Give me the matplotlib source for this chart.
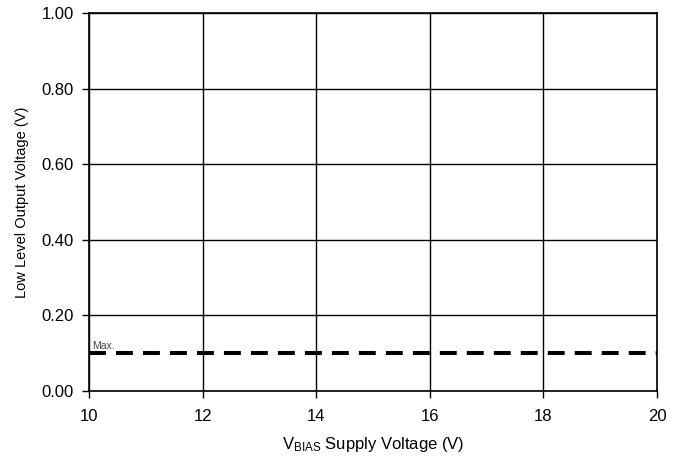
import matplotlib
matplotlib.use('Agg')
import matplotlib.pyplot as plt

plt.rcParams['font.family'] = ['Liberation Sans', 'DejaVu Sans']
plt.rcParams['mathtext.default'] = 'regular'

# data
vbias = [10, 20]
vol_max = [0.10, 0.10]
xticks = [10, 12, 14, 16, 18, 20]
yticks = [0.0, 0.2, 0.4, 0.6, 0.8, 1.0]

fig = plt.figure(figsize=(6.8, 4.57), dpi=100)
ax = fig.add_axes([0.1309, 0.1444, 0.8353, 0.8271])

ax.plot(vbias, vol_max, color='black', linestyle=(0, (4.2, 2.5)), linewidth=2.9)
ax.text(10.05, 0.112, 'Max.', fontsize=7.5, color='#444444')

ax.set_xlim(10, 20)
ax.set_ylim(0, 1)
ax.set_xticks(xticks)
ax.set_yticks(yticks)
ax.set_yticklabels(['%.2f' % v for v in yticks])
ax.grid(True, color='black', linewidth=1.0)
ax.set_axisbelow(True)
for s in ax.spines.values():
    s.set_color('black')
    s.set_linewidth(1.2)
ax.tick_params(direction='out', length=5, width=1.0, labelsize=12)
ax.tick_params(axis='y', pad=6)
ax.tick_params(axis='x', pad=8)

ax.set_xlabel(r'V$_{BIAS}$ Supply Voltage (V)', fontsize=12, labelpad=8)
ax.set_ylabel('Low Level Output Voltage (V)', fontsize=10.5, labelpad=9)

fig.savefig('out.png', dpi=100)
